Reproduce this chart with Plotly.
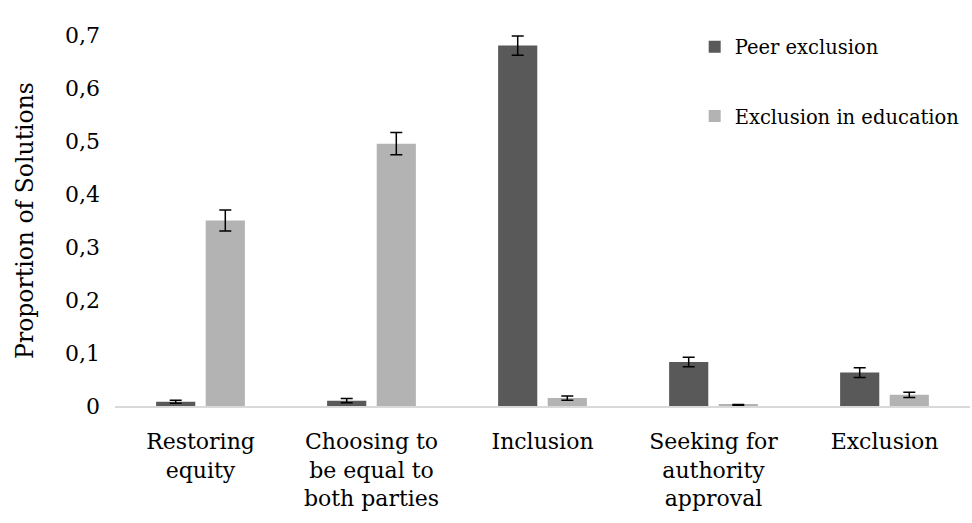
import plotly.graph_objects as go

categories = ["Restoring<br>equity", "Choosing to<br>be equal to<br>both parties", "Inclusion",
              "Seeking for<br>authority<br>approval", "Exclusion"]
peer_values = [0.008, 0.010, 0.680, 0.083, 0.063]
peer_errors = [0.003, 0.004, 0.018, 0.009, 0.009]
edu_values = [0.350, 0.495, 0.015, 0.002, 0.021]
edu_errors = [0.020, 0.021, 0.004, 0.001, 0.005]
tick_values = [0, 0.1, 0.2, 0.3, 0.4, 0.5, 0.6, 0.7]
tick_labels = ["0", "0,1", "0,2", "0,3", "0,4", "0,5", "0,6", "0,7"]

font_family = "DejaVu Serif"

fig = go.Figure()
fig.add_trace(go.Bar(
    x=categories, y=peer_values, name="Peer exclusion",
    marker=dict(color="#595959", line=dict(width=0)),
    error_y=dict(type="data", array=peer_errors, color="black", thickness=1.5, width=6),
    legendgroup="a",
))
fig.add_trace(go.Bar(
    x=categories, y=edu_values, name="Exclusion in education",
    marker=dict(color="#b3b3b3", line=dict(width=0)),
    error_y=dict(type="data", array=edu_errors, color="black", thickness=1.5, width=6),
    legendgroup="b",
))

fig.update_layout(
    width=972, height=523,
    margin=dict(l=115, r=2, t=35, b=117, autoexpand=False),
    paper_bgcolor="white", plot_bgcolor="white",
    font=dict(family=font_family, size=22, color="black"),
    barmode="group", bargap=0.42, bargroupgap=0.21,
    showlegend=True,
    legend=dict(x=0.678, y=1.02, xanchor="left", yanchor="top",
                font=dict(family=font_family, size=19.5), tracegroupgap=41,
                bgcolor="rgba(0,0,0,0)", itemwidth=30),
    xaxis=dict(showline=True, linecolor="#d9d9d9", linewidth=1.5, ticks="",
               tickfont=dict(family=font_family, size=22), showgrid=False,
               ticklabelstandoff=15),
    yaxis=dict(range=[0, 0.7], tickvals=tick_values, ticktext=tick_labels,
               showgrid=False, zeroline=False, showline=False, ticks="",
               tickfont=dict(family=font_family, size=22), ticklabelstandoff=14,
               title=dict(text="Proportion of Solutions",
                          font=dict(family=font_family, size=23.5), standoff=24)),
)

fig.write_html("out.html")
